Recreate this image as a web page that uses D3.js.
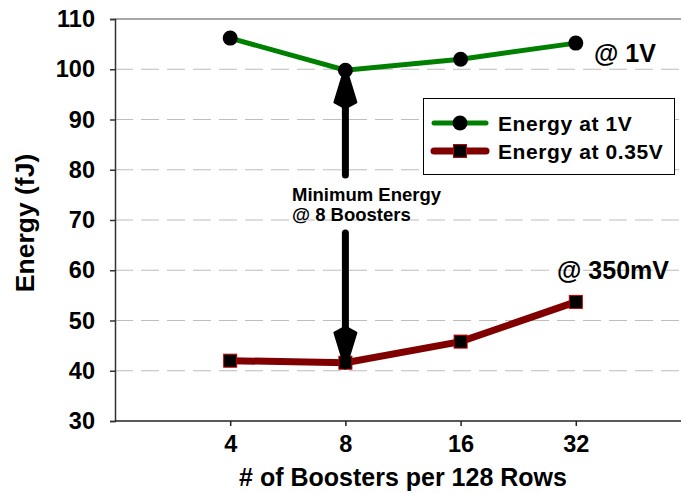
<!doctype html>
<html>
<head>
  <meta charset="utf8">
  <title>energy vs boosters</title>
  <style>
    body { margin: 0; padding: 0; background: #fff; }
    svg { display: block; }
    text { font-family: "Liberation Sans", Arial, sans-serif; font-weight: bold; fill: #000; }
  </style>
</head>
<body>
  <svg></svg>
  <script src="https://d3js.org/d3.v7.min.js"></script>
  <script>
    // data
    const boosters = ['4', '8', '16', '32']
    const energy1V = [106.2, 99.8, 102.0, 105.2]
    const energy035V = [42.0, 41.6, 45.8, 53.7]
    const yTicks = [30, 40, 50, 60, 70, 80, 90, 100, 110]
    const gridTicks = [40, 50, 60, 70, 80, 90, 100]

    const width = 681
    const height = 493
    const plotLeft = 115, plotRight = 691, plotTop = 19, plotBottom = 421

    const svg = d3.select('svg')
      .attr('width', width)
      .attr('height', height)

    const x = d3.scalePoint()
      .domain(['', ...boosters, ' '])
      .range([plotLeft, plotRight])

    const y = d3.scaleLinear()
      .domain([30, 110])
      .range([plotBottom, plotTop])

    // dashed grid
    svg.append('g')
      .selectAll('line')
      .data(gridTicks)
      .join('line')
      .attr('x1', plotLeft)
      .attr('x2', width)
      .attr('y1', d => y(d))
      .attr('y2', d => y(d))
      .style('stroke', '#bdbdbd')
      .style('stroke-width', 1.2)
      .style('stroke-dasharray', '18,8')

    // top border
    svg.append('line')
      .attr('x1', plotLeft).attr('x2', width)
      .attr('y1', plotTop).attr('y2', plotTop)
      .style('stroke', '#888')
      .style('stroke-width', 1.5)

    // axes
    const yAxis = svg.append('g')
      .attr('transform', `translate(${plotLeft},0)`)
      .call(d3.axisLeft(y).tickValues(yTicks).tickSize(5).tickPadding(15))
    yAxis.select('.domain').style('stroke', '#333').style('stroke-width', 1.5)
    yAxis.selectAll('.tick line').style('stroke', '#333').style('stroke-width', 1.5)
    yAxis.selectAll('text')
      .style('font-size', '23.5px')
      .style('font-family', '"Liberation Sans", Arial, sans-serif')
      .style('font-weight', 'bold')
      .attr('fill', '#000')

    const xAxis = svg.append('g')
      .attr('transform', `translate(0,${plotBottom})`)
      .call(d3.axisBottom(x).tickValues(boosters).tickSize(5).tickPadding(9).tickSizeOuter(0))
    xAxis.select('.domain').attr('d', `M${plotLeft},0H${width}`).style('stroke', '#222').style('stroke-width', 1.5)
    xAxis.selectAll('.tick line').style('stroke', '#222').style('stroke-width', 1.5)
    xAxis.selectAll('text')
      .style('font-size', '23.5px')
      .style('font-family', '"Liberation Sans", Arial, sans-serif')
      .style('font-weight', 'bold')
      .attr('fill', '#000')

    // axis titles
    svg.append('text')
      .attr('x', 403)
      .attr('y', 486)
      .style('text-anchor', 'middle')
      .style('font-size', '25px')
      .text('# of Boosters per 128 Rows')

    svg.append('text')
      .attr('transform', `translate(34,223) rotate(-90)`)
      .style('text-anchor', 'middle')
      .style('font-size', '26.5px')
      .text('Energy (fJ)')

    // arrows
    function arrow (x0, yFrom, yTo) {
      const dir = yTo < yFrom ? -1 : 1
      const headLen = 36
      const headW = 11
      const yBase = yTo - dir * headLen
      svg.append('line')
        .attr('x1', x0).attr('x2', x0)
        .attr('y1', yFrom).attr('y2', yBase)
        .style('stroke', '#000')
        .style('stroke-width', 7)
        .style('stroke-linecap', 'round')
      svg.append('path')
        .attr('d', `M${x0},${yTo}L${x0 - headW},${yBase}L${x0},${yBase - dir * 6}L${x0 + headW},${yBase}Z`)
        .style('fill', '#000')
        .style('stroke', '#000')
        .style('stroke-width', 2)
        .style('stroke-linejoin', 'round')
    }

    // series lines
    const line = d3.line()
      .x((d, i) => x(boosters[i]))
      .y(d => y(d))

    svg.append('path')
      .datum(energy035V)
      .attr('d', line)
      .style('fill', 'none')
      .style('stroke', '#800000')
      .style('stroke-width', 7)

    svg.append('path')
      .datum(energy1V)
      .attr('d', line)
      .style('fill', 'none')
      .style('stroke', '#008000')
      .style('stroke-width', 5)

    svg.selectAll('rect.pt')
      .data(energy035V)
      .join('rect')
      .attr('class', 'pt')
      .attr('x', (d, i) => x(boosters[i]) - 6.5)
      .attr('y', d => y(d) - 6.5)
      .attr('width', 13)
      .attr('height', 13)
      .style('fill', '#000')
      .style('stroke', '#c00000')
      .style('stroke-width', 1)

    svg.selectAll('circle.pt')
      .data(energy1V)
      .join('circle')
      .attr('class', 'pt')
      .attr('cx', (d, i) => x(boosters[i]))
      .attr('cy', d => y(d))
      .attr('r', 7.5)
      .style('fill', '#000')

    arrow(x('8'), 175, y(energy1V[1]) - 4)
    arrow(x('8'), 233, y(energy035V[1]) + 6)

    // annotations
    svg.append('text')
      .attr('x', 292)
      .attr('y', 201)
      .style('font-size', '18.5px')
      .text('Minimum Energy')
    svg.append('text')
      .attr('x', 292)
      .attr('y', 221)
      .style('font-size', '18.5px')
      .text('@ 8 Boosters')

    svg.append('text')
      .attr('x', 594)
      .attr('y', 62)
      .style('font-size', '25px')
      .text('@ 1V')

    svg.append('text')
      .attr('x', 557)
      .attr('y', 279)
      .style('font-size', '25px')
      .text('@ 350mV')

    // legend
    const legend = svg.append('g')
    legend.append('rect')
      .attr('x', 423.5).attr('y', 98.5)
      .attr('width', 251).attr('height', 76)
      .style('fill', '#fff')
      .style('stroke', '#000')
      .style('stroke-width', 1)

    const legendItems = [
      { label: 'Energy at 1V', color: '#008000', width: 5, mark: 'circle' },
      { label: 'Energy at 0.35V', color: '#800000', width: 7, mark: 'square' }
    ]
    legendItems.forEach((it, i) => {
      const ly = 123 + i * 28
      legend.append('line')
        .attr('x1', 434).attr('x2', 486)
        .attr('y1', ly).attr('y2', ly)
        .style('stroke', it.color)
        .style('stroke-width', it.width)
        .style('stroke-linecap', 'round')
      if (it.mark === 'circle') {
        legend.append('circle').attr('cx', 460).attr('cy', ly).attr('r', 7.5).style('fill', '#000')
      } else {
        legend.append('rect')
          .attr('x', 453.5).attr('y', ly - 6.5).attr('width', 13).attr('height', 13)
          .style('fill', '#000').style('stroke', '#c00000').style('stroke-width', 1)
      }
      legend.append('text')
        .attr('x', 498)
        .attr('y', ly + 8)
        .style('font-size', '21px')
        .style('letter-spacing', '0.6px')
        .text(it.label)
    })
  </script>
</body>
</html>
